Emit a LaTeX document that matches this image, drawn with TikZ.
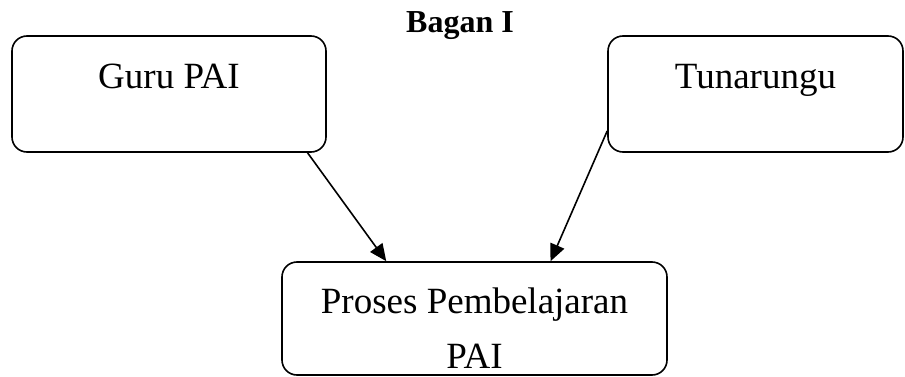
\documentclass[tikz,border=0pt]{standalone}
\usepackage{fontspec}
\setmainfont{Liberation Serif}
\usetikzlibrary{arrows.meta}

\begin{document}
\begin{tikzpicture}[x=1pt, y=1pt,
  box/.style={draw, line width=1.6pt, rounded corners=15pt, inner sep=0pt,
    align=center, font=\fontsize{37}{55}\selectfont},
  flow/.style={-{Triangle[length=17pt,width=15pt]}, line width=1.6pt}]
  \useasboundingbox (0,0) rectangle (905,376);

  \node[font=\fontsize{32}{36}\selectfont\bfseries, anchor=base] (title) at (460,344) {Bagan I};

  \node[box, minimum width=314pt, text height=52pt, text depth=64pt] (guru) at (169,282) {Guru PAI};
  \node[box, minimum width=295pt, text height=52pt, text depth=64pt] (tuna) at (755.5,282) {Tunarungu};
  \node[box, minimum width=385pt, text height=106pt, text depth=7pt] (proses) at (474.5,57.5)
    {Proses Pembelajaran\\PAI};

  \draw[flow] (guru.-23.4) -- (proses.147.1);
  \draw[flow] (tuna.194.4) -- (proses.37.9);

\end{tikzpicture}
\end{document}
